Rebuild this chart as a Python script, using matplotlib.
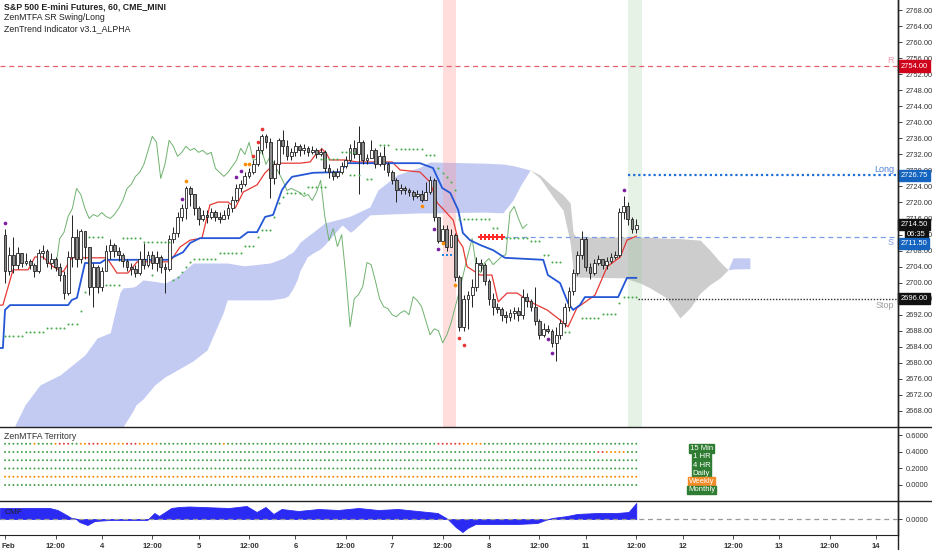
import matplotlib
matplotlib.use('Agg')
import matplotlib.pyplot as plt
import matplotlib.transforms as mtrans
from matplotlib.lines import Line2D
import numpy as np

plt.rcParams['font.family'] = ['Liberation Sans', 'DejaVu Sans']

# ---------------- data ----------------
first_open = 2712.0
closes = [2703.0, 2707.0, 2704.5, 2707.5, 2705.0, 2705.5, 2704.5, 2703.0, 2707.5, 2708.0,
          2705.0, 2706.0, 2704.0, 2702.0, 2697.5, 2706.5, 2711.5, 2706.0, 2713.0, 2709.0,
          2699.0, 2704.0, 2699.0, 2703.0, 2708.0, 2709.5, 2708.0, 2707.0, 2705.5, 2704.0,
          2703.5, 2702.5, 2706.0, 2704.5, 2707.0, 2705.0, 2706.5, 2704.0, 2703.5, 2711.0,
          2712.5, 2716.5, 2718.5, 2723.5, 2722.0, 2718.5, 2716.0, 2717.0, 2716.5, 2717.5,
          2716.5, 2716.0, 2717.0, 2718.5, 2720.5, 2723.5, 2724.5, 2726.5, 2727.5, 2729.5,
          2733.0, 2736.5, 2735.0, 2726.0, 2729.5, 2735.5, 2734.0, 2731.5, 2732.5, 2734.0,
          2733.0, 2733.5, 2732.5, 2733.0, 2732.0, 2732.5, 2728.5, 2727.5, 2726.5, 2727.5,
          2729.0, 2730.5, 2733.5, 2732.0, 2735.0, 2730.5, 2731.0, 2733.0, 2729.5, 2731.5,
          2729.5, 2727.5, 2725.5, 2723.0, 2723.5, 2723.0, 2722.5, 2721.5, 2722.0, 2720.5,
          2722.5, 2725.5, 2716.5, 2710.5, 2713.5, 2709.0, 2712.0, 2701.5, 2689.0, 2696.0,
          2697.0, 2699.0, 2705.0, 2704.5, 2700.5, 2696.0, 2694.0, 2693.5, 2692.0, 2691.5,
          2692.5, 2693.0, 2692.0, 2696.5, 2695.5, 2694.0, 2690.5, 2687.0, 2688.5, 2688.0,
          2685.0, 2687.0, 2690.0, 2694.0, 2698.0, 2702.5, 2707.0, 2711.0, 2704.0, 2702.5,
          2705.0, 2706.0, 2704.5, 2705.5, 2706.5, 2707.0, 2717.5, 2719.0, 2716.0, 2713.5,
          2714.5]
highs = [2713.5, 2709.0, 2711.5, 2709.0, 2707.5, 2707.5, 2706.0, 2705.0, 2708.5, 2709.5,
         2708.5, 2707.5, 2706.5, 2705.0, 2703.0, 2708.0, 2717.0, 2713.5, 2713.5, 2711.0,
         2709.0, 2705.0, 2704.5, 2704.0, 2709.5, 2711.0, 2710.0, 2709.0, 2707.5, 2706.0,
         2705.0, 2704.5, 2708.0, 2710.0, 2708.0, 2708.0, 2708.0, 2707.0, 2705.0, 2712.0,
         2714.0, 2717.5, 2719.5, 2724.0, 2724.0, 2721.0, 2719.0, 2718.0, 2718.0, 2718.5,
         2718.0, 2717.5, 2718.0, 2719.5, 2721.5, 2724.5, 2725.5, 2727.5, 2728.5, 2730.5,
         2734.0, 2737.0, 2737.0, 2736.0, 2730.5, 2736.0, 2738.0, 2735.5, 2733.5, 2735.0,
         2734.5, 2734.5, 2734.0, 2734.0, 2733.5, 2733.5, 2733.0, 2729.5, 2728.0, 2728.5,
         2730.0, 2731.5, 2734.5, 2735.5, 2739.0, 2735.5, 2732.0, 2735.5, 2733.5, 2732.5,
         2734.0, 2730.0, 2728.0, 2726.0, 2724.5, 2724.0, 2723.5, 2723.0, 2723.0, 2723.0,
         2725.0, 2726.5, 2726.0, 2716.5, 2714.5, 2714.5, 2713.5, 2712.5, 2702.0, 2697.0,
         2698.0, 2701.0, 2706.5, 2706.0, 2705.0, 2701.0, 2697.5, 2695.0, 2694.0, 2693.0,
         2693.5, 2694.0, 2694.0, 2698.5, 2697.5, 2696.0, 2699.0, 2691.0, 2690.0, 2689.5,
         2688.5, 2689.0, 2691.0, 2695.0, 2699.0, 2703.5, 2708.0, 2713.0, 2711.5, 2705.0,
         2706.0, 2707.0, 2706.0, 2706.5, 2707.5, 2708.0, 2718.5, 2721.5, 2720.0, 2716.5,
         2716.0]
lows = [2700.0, 2702.0, 2702.5, 2703.5, 2704.0, 2704.5, 2703.5, 2701.5, 2702.5, 2706.0,
        2704.0, 2703.5, 2703.0, 2700.5, 2696.0, 2697.0, 2704.0, 2704.0, 2705.0, 2706.0,
        2697.0, 2694.0, 2697.5, 2698.0, 2703.0, 2706.0, 2706.5, 2705.5, 2704.0, 2703.0,
        2702.0, 2701.5, 2702.0, 2703.5, 2704.0, 2703.5, 2703.0, 2702.5, 2697.5, 2703.0,
        2710.0, 2711.5, 2715.5, 2716.0, 2719.0, 2717.0, 2714.5, 2715.5, 2715.0, 2716.0,
        2715.5, 2715.0, 2716.0, 2716.0, 2717.5, 2720.0, 2722.5, 2724.0, 2726.0, 2727.0,
        2729.0, 2732.0, 2733.5, 2721.0, 2724.5, 2727.0, 2732.0, 2730.5, 2730.5, 2731.5,
        2731.5, 2732.0, 2731.5, 2732.0, 2731.0, 2731.5, 2727.5, 2726.0, 2725.5, 2726.0,
        2727.0, 2728.5, 2730.0, 2731.0, 2722.0, 2729.5, 2729.5, 2731.0, 2728.5, 2729.0,
        2728.0, 2726.5, 2724.5, 2720.0, 2722.0, 2722.0, 2721.5, 2720.5, 2721.0, 2720.0,
        2720.5, 2722.0, 2715.5, 2710.0, 2711.5, 2708.0, 2711.0, 2700.5, 2688.0, 2688.0,
        2688.5, 2694.0, 2698.0, 2703.0, 2699.5, 2694.5, 2692.0, 2692.5, 2690.5, 2690.0,
        2690.5, 2691.0, 2690.5, 2691.0, 2694.0, 2693.0, 2689.5, 2686.0, 2686.5, 2687.5,
        2684.0, 2680.5, 2686.0, 2689.0, 2693.0, 2697.0, 2702.0, 2706.0, 2703.0, 2701.0,
        2702.0, 2704.5, 2703.5, 2703.5, 2705.0, 2706.0, 2706.5, 2716.0, 2714.5, 2712.5,
        2712.5]

# conversion (red) and base (blue) lines: vertices (bar index, price)
conv_x = [-1.2, -0.5, 1.9, 5.5, 7.1, 9.0, 11.4, 13.8, 15.9, 24.2, 26.6, 29.2, 31.4, 39.2,
          41.6, 44.0, 46.8, 48.7, 50.6, 53.0, 54.7, 56.6, 59.9, 61.8, 63.7, 65.4, 70.1, 72.5,
          73.7, 75.3, 76.5, 77.2, 80.8, 83.7, 92.0, 93.9, 98.6, 101.0, 102.7, 103.9, 106.5,
          107.7, 108.8, 109.8, 112.9, 115.7, 117.2, 119.3, 121.7, 124.8, 128.8, 131.9, 133.8,
          135.9, 140.2, 143.1, 146.2, 147.8, 150.0]
conv_y = [2694.4, 2694.4, 2703.2, 2703.2, 2706.4, 2706.4, 2704.0, 2702.7, 2706.2, 2706.2,
          2702.4, 2702.4, 2705.2, 2705.2, 2708.9, 2710.6, 2711.1, 2719.4, 2720.1, 2720.1,
          2718.6, 2722.6, 2724.4, 2727.4, 2729.3, 2729.8, 2729.8, 2730.1, 2731.8, 2733.4,
          2732.0, 2730.6, 2730.6, 2730.1, 2730.1, 2728.1, 2727.6, 2725.1, 2719.9, 2718.6,
          2715.6, 2710.6, 2708.9, 2704.0, 2701.9, 2701.9, 2695.2, 2697.4, 2697.4, 2695.2,
          2693.2, 2690.7, 2689.0, 2693.7, 2696.9, 2704.0, 2706.4, 2710.6, 2711.6]
base_x = [-1.2, -0.5, 0.0, 1.2, 15.0, 15.9, 17.1, 19.0, 22.6, 23.8, 38.7, 42.3, 44.0, 46.3,
          55.8, 57.7, 59.9, 61.8, 63.7, 65.8, 67.0, 68.2, 73.2, 79.6, 81.3, 98.6, 101.7, 103.9,
          105.8, 107.7, 108.8, 110.5, 112.9, 116.0, 118.8, 127.9, 129.0, 131.9, 133.8, 135.0,
          136.6, 137.8, 145.7, 147.8, 150.0]
base_y = [2683.7, 2683.7, 2693.2, 2694.4, 2694.4, 2695.7, 2696.2, 2704.9, 2704.9, 2705.7,
          2705.7, 2707.6, 2709.9, 2711.1, 2711.1, 2712.6, 2712.6, 2716.4, 2716.9, 2723.1,
          2724.9, 2726.4, 2727.4, 2727.6, 2729.8, 2729.8, 2728.6, 2723.6, 2722.4, 2718.1,
          2712.4, 2710.6, 2709.4, 2708.1, 2706.2, 2705.7, 2701.9, 2699.9, 2694.9, 2693.2,
          2694.4, 2696.4, 2696.4, 2701.2, 2701.2]
lag_shift = 26
lag_start = 12

# cloud (leading spans, already displaced forward)
cloud1_x = [2.4, 4.75, 8.3, 13.1, 19.0, 21.9, 25.0, 26.1, 27.3, 28.0, 30.4, 31.1, 32.8, 35.6,
            38.0, 40.9, 44.7, 48.0, 51.8, 52.8, 56.8, 63.0, 66.3, 67.3, 68.4, 69.4, 70.1, 71.8,
            73.2, 74.9, 76.0, 80.1, 82.0, 82.7, 86.7, 88.6, 93.2, 98.6, 101.0, 114.1, 118.3,
            120.7, 122.6, 124.8]
cloud1_top = [2664.5, 2669.5, 2674.5, 2677.0, 2682.0, 2686.2, 2687.5, 2692.4, 2697.5, 2698.7,
              2698.9, 2699.2, 2700.7, 2700.3, 2699.9, 2701.5, 2704.9, 2704.9, 2704.9, 2704.9,
              2704.2, 2704.9, 2706.2, 2707.0, 2707.6, 2709.0, 2710.1, 2711.5, 2712.6, 2714.0,
              2714.9, 2716.0, 2716.6, 2716.9, 2718.9, 2723.1, 2726.9, 2728.8, 2730.1, 2729.8,
              2729.6, 2729.2, 2728.7, 2728.1]
cloud1_bot = [2650.0, 2650.0, 2650.0, 2650.0, 2650.0, 2650.0, 2650.0, 2650.0, 2662.0, 2664.0,
              2668.0, 2669.5, 2671.0, 2674.5, 2676.5, 2678.2, 2680.5, 2683.2, 2692.4, 2695.7,
              2695.7, 2695.7, 2696.2, 2696.7, 2698.5, 2700.7, 2703.0, 2706.4, 2707.4, 2708.4,
              2709.5, 2714.4, 2712.6, 2713.0, 2716.9, 2717.0, 2717.2, 2717.4, 2717.4, 2717.6,
              2717.4, 2720.6, 2724.4, 2728.1]
cloud2_x = [124.8, 127.1, 130.2, 132.6, 134.3, 135.0, 135.7, 147.1, 150.9, 153.3, 156.9, 160.4,
            162.8, 165.2, 167.5, 169.9, 171.8]
cloud2_top = [2728.1, 2726.9, 2723.9, 2721.9, 2719.9, 2712.4, 2711.4, 2711.4, 2711.4, 2711.3,
              2711.1, 2711.0, 2710.8, 2710.6, 2708.1, 2705.2, 2703.2]
cloud2_bot = [2728.1, 2726.1, 2721.4, 2718.1, 2710.0, 2703.0, 2701.4, 2701.2, 2699.9, 2698.7,
              2696.4, 2691.2, 2693.7, 2697.4, 2699.5, 2701.2, 2703.2]
cloud3_x = [171.8, 173.0, 177.0]
cloud3_top = [2703.2, 2706.2, 2706.2]
cloud3_bot = [2703.2, 2703.4, 2703.5]

# swing markers
purple_x = [0, 42, 55, 56, 102, 103, 129, 130, 147]
purple_y = [2715.0, 2720.8, 2726.4, 2727.9, 2713.4, 2708.5, 2686.0, 2682.5, 2723.0]
orange_x = [43, 57, 58, 99, 104, 107]
orange_y = [2725.3, 2729.6, 2729.6, 2719.2, 2710.0, 2699.5]
red_x = [59, 60, 61, 108, 109]
red_y = [2731.5, 2735.0, 2738.3, 2686.2, 2684.5]
blue_dot_x = [104, 105, 106]
blue_dot_y = [2706.9, 2706.9, 2706.9]
cross_x = [113, 114, 115, 116, 117, 118]
cross_y = [2711.5] * 6

# green stop dots: (first bar, last bar, price)
green_segments = [
    (0, 4, 2686.8), (5, 9, 2687.8), (10, 14, 2688.8), (15, 17, 2689.8), (18, 18, 2693.0),
    (19, 19, 2697.7), (20, 23, 2711.4), (24, 27, 2699.4), (28, 32, 2711.2), (33, 39, 2710.1),
    (35, 35, 2702.0), (40, 40, 2700.7), (41, 41, 2701.5), (42, 42, 2702.7), (43, 43, 2704.0),
    (44, 44, 2705.2), (45, 50, 2706.0), (51, 56, 2707.5), (57, 59, 2709.1), (60, 60, 2711.4),
    (61, 63, 2713.1), (64, 64, 2716.4), (65, 65, 2719.9), (66, 66, 2721.4), (67, 71, 2722.4),
    (72, 76, 2723.9), (75, 79, 2730.8), (80, 83, 2732.6), (82, 84, 2726.9), (86, 87, 2725.9),
    (89, 91, 2734.3), (93, 99, 2733.3), (100, 102, 2731.8), (103, 103, 2728.6),
    (104, 104, 2727.4), (105, 105, 2726.4), (106, 106, 2725.1), (107, 107, 2723.1),
    (108, 115, 2716.0), (116, 117, 2713.6), (118, 124, 2711.2), (125, 127, 2710.3),
    (128, 129, 2706.9), (130, 132, 2705.2), (133, 134, 2687.7), (137, 141, 2691.3),
    (142, 145, 2692.2), (146, 146, 2694.9), (147, 150, 2696.4)]

# levels
level_R = 2754.00
level_long = 2726.75
level_last = 2714.50
level_S = 2711.50
level_stop = 2696.00
countdown = "06:35"

# highlighted bars
red_band = (104.1, 107.2)
green_band = (148.1, 151.4)

# MTFA territory rows (value, name, colour codes per bar)
terr_values = [0.5, 0.4, 0.3, 0.2, 0.1, 0.0]
terr_names = ["15 Min", "1 HR", "4 HR", "Daily", "Weekly", "Monthly"]
terr_label_colors = ["g", "g", "g", "g", "o", "g"]
terr_codes = [
    "gggggggoggggorrrggoorrroooooorrrooooo" + "g" * 15 + "o" + "g" * 50 + "rrrrrrooooo" + "g" * 37,
    "g" * 141 + "rrooooo" + "ggg",
    "g" * 151,
    "g" * 151,
    "o" * 151,
    "g" * 151,
]

# CMF (vertices)
cmf_x = [-1.2, 10.6, 12.5, 14.2, 15.8, 16.8, 17.7, 19.6, 21.3, 24.8, 33.8, 35.5, 36.6, 39.5,
         41.4, 43.7, 53.2, 57.4, 59.8, 61.9, 63.8, 65.7, 69.7, 74.5, 79.2, 84.0, 88.7, 93.4,
         98.1, 102.8, 105.2, 107.1, 108.7, 109.9, 111.8, 117.0, 121.7, 126.5, 128.4, 130.0,
         133.6, 135.9, 140.7, 145.4, 148.2, 150.0]
cmf_y = [0.11, 0.11, 0.09, 0.05, 0.01, 0.005, -0.03, -0.06, -0.02, -0.01, -0.01, 0.06, 0.03,
         0.11, 0.12, 0.125, 0.11, 0.13, 0.07, 0.12, 0.05, 0.10, 0.08, 0.10, 0.09, 0.11, 0.09,
         0.10, 0.08, 0.06, 0.0, -0.08, -0.13, -0.09, -0.05, -0.05, -0.05, -0.04, -0.01, 0.01,
         0.03, 0.05, 0.06, 0.06, 0.07, 0.16]

# x axis labels
day_labels = ["Feb", "4", "5", "6", "7", "8", "11", "12", "13", "14"]
bars_per_day = 23
noon_offset = 12

# ---------------- figure ----------------
W, H = 932, 550
fig = plt.figure(figsize=(W / 100, H / 100), dpi=100)
fig.patch.set_facecolor('white')


def fy(y):
    return 1 - y / H


RX = 898 / W
axm = fig.add_axes([0, fy(427), RX, 427 / H])
axt = fig.add_axes([0, fy(501), RX, (501 - 427) / H], sharex=axm)
axc = fig.add_axes([0, fy(535), RX, (535 - 501) / H], sharex=axm)

XMIN, XMAX = -1.19, 212.2
axm.set_xlim(XMIN, XMAX)
axm.set_ylim(2664.0, 2770.5)

col_color = {"g": "#43a047", "o": "#fb8c00", "r": "#e53935"}
TFS = 5.4

# cloud
axm.fill_between(cloud1_x, cloud1_bot, cloud1_top, color='#c3cbf3', lw=0, zorder=1)
axm.fill_between(cloud2_x, cloud2_bot, cloud2_top, color='#cdcdcd', lw=0, zorder=1)
axm.fill_between(cloud3_x, cloud3_bot, cloud3_top, color='#c3cbf3', lw=0, zorder=1)

# bands
axm.axvspan(*red_band, color='#ff9a9a', alpha=0.33, lw=0, zorder=2)
axm.axvspan(*green_band, color='#9ccc9c', alpha=0.25, lw=0, zorder=2)

# lagging span
n = len(closes)
lag_x = np.arange(lag_start, n - lag_shift)
lag_y = np.array(closes)[lag_start + lag_shift:]
axm.plot(lag_x, lag_y, color='#6fb26f', lw=0.7, zorder=3)

# lines
axm.plot(conv_x, conv_y, color='#e53935', lw=0.9, zorder=3.2)
axm.plot(base_x, base_y, color='#2457d6', lw=1.3, zorder=3.2)

# candles
o = np.array([first_open] + closes[:-1])
c = np.array(closes)
h = np.maximum(np.array(highs), np.maximum(o, c))
l = np.minimum(np.array(lows), np.minimum(o, c))
xs = np.arange(n)
axm.vlines(xs, l, h, color='#222222', lw=0.7, zorder=4)
body_b = np.minimum(o, c)
body_h = np.maximum(np.abs(c - o), 0.25)
fcs = ['#ffffff' if cc >= oo else '#8a8a8a' for oo, cc in zip(o, c)]
axm.bar(xs, body_h, bottom=body_b, width=0.66, color=fcs, edgecolor='#222222',
        linewidth=0.6, zorder=5)

# green stop dots
gx, gy = [], []
for a, b, p in green_segments:
    for i in range(a, b + 1):
        gx.append(i)
        gy.append(p)
axm.scatter(gx, gy, s=2.2, color='#4caf50', zorder=6, lw=0)
axm.scatter(purple_x, purple_y, s=7, color='#7b1fa2', zorder=6, lw=0)
axm.scatter(orange_x, orange_y, s=7, color='#fb8c00', zorder=6, lw=0)
axm.scatter(red_x, red_y, s=7, color='#e53935', zorder=6, lw=0)
axm.scatter(blue_dot_x, blue_dot_y, s=4, color='#1e88e5', marker='s', zorder=6, lw=0)
axm.scatter(cross_x, cross_y, s=18, color='#ff2b2b', marker='P', zorder=6, lw=0)

# level lines
axm.axhline(level_R, color='#e06070', lw=0.9, ls=(0, (4, 3)), zorder=3)
axm.plot([148.1, XMAX], [level_long] * 2, color='#1e6fd9', lw=1.6, ls=(0, (1, 1.3)), zorder=6)
axm.plot([118.5, XMAX], [level_S] * 2, color='#7f9be6', lw=0.9, ls=(0, (4, 3)), zorder=3)
axm.plot([150.5, XMAX], [level_stop] * 2, color='#333333', lw=1.0, ls=(0, (1, 1.2)), zorder=6)

bt = mtrans.blended_transform_factory(axm.transAxes, axm.transData)
axm.text(0.9955, level_R + 0.4, "R", transform=bt, ha='right', va='bottom', fontsize=6.5,
         color='#f29fb0')
axm.text(0.9955, level_long + 0.4, "Long", transform=bt, ha='right', va='bottom',
         fontsize=6.5, color='#4f7fd8')
axm.text(0.9955, level_S - 0.4, "S", transform=bt, ha='right', va='top', fontsize=6.5,
         color='#7f9be6')
axm.text(0.9955, level_stop - 0.5, "Stop", transform=bt, ha='right', va='top', fontsize=6.5,
         color='#9e9e9e')

# axes styling
for ax in (axm, axt, axc):
    for s in ('left', 'top', 'bottom'):
        ax.spines[s].set_visible(False)
    ax.spines['right'].set_color('#222222')
    ax.spines['right'].set_linewidth(1.0)
    ax.yaxis.tick_right()
    ax.tick_params(axis='y', direction='out', length=3, width=0.6, colors='#222222',
                   labelsize=TFS, pad=2.5, labelcolor='#333333')
    ax.set_facecolor('none')
axm.tick_params(axis='x', bottom=False, labelbottom=False)
axt.tick_params(axis='x', bottom=False, labelbottom=False)

yt = np.arange(2668, 2769, 4)
axm.set_yticks(yt)
axm.set_yticklabels([f"{v:.2f}" for v in yt])

# right axis price boxes
def rbox(ax, yval, text, fc, dy=0, dx=1.6):
    ax.annotate(text, xy=(1, yval), xycoords=('axes fraction', 'data'),
                xytext=(dx, dy), textcoords='offset points', ha='left', va='center',
                fontsize=TFS, color='white', zorder=20, annotation_clip=False,
                bbox=dict(boxstyle='square,pad=0.3', fc=fc, ec=fc))

rbox(axm, level_R, f"{level_R:.2f}", '#d0021b')
rbox(axm, level_long, f"{level_long:.2f}", '#1565c0')
rbox(axm, level_last, f"{level_last:.2f}", '#111111')
rbox(axm, level_last, countdown, '#111111', dy=-7.0, dx=6.5)
rbox(axm, level_S, f"{level_S:.2f}", '#1565c0', dy=-5.0)
rbox(axm, level_stop, f"{level_stop:.2f}", '#111111')

# territory panel
axt.set_ylim(-0.194, 0.703)
axt.set_yticks([0.6, 0.4, 0.2, 0.0])
axt.set_yticklabels(["0.6000", "0.4000", "0.2000", "0.0000"])
for val, codes in zip(terr_values, terr_codes):
    codes = codes[:n]
    axt.scatter(np.arange(len(codes)), [val] * len(codes), s=2.0,
                color=[col_color[ch] for ch in codes], lw=0, zorder=3)
for val, name, lc in zip(terr_values, terr_names, terr_label_colors):
    fc = '#2e7d32' if lc == 'g' else '#f28c28'
    axt.text(165.5, val - 0.058, name, ha='center', va='center', fontsize=5.6, color='white',
             bbox=dict(boxstyle='square,pad=0.1', fc=fc, ec=fc), zorder=5)
axt.text(0.005, 0.87, "ZenMTFA Territory", transform=axt.transAxes, fontsize=6.3,
         color='#333333', ha='left', va='center')

# CMF panel
axc.set_ylim(-0.16, 0.18)
axc.fill_between(cmf_x, 0, cmf_y, color='#2a2af2', lw=0.6, edgecolor='#2a2af2', zorder=2)
axc.axhline(0, color='#9a9a9a', lw=0.9, ls=(0, (4, 3)), zorder=3)
axc.set_yticks([0.0])
axc.set_yticklabels(["0.0000"])
axc.text(0.005, 0.66, "CMF", transform=axc.transAxes, fontsize=6.0, color='#222222',
         ha='left', va='center', zorder=5)
axc.spines['bottom'].set_visible(True)
axc.spines['bottom'].set_color('#222222')

xt, xl = [], []
for d, lab in enumerate(day_labels):
    xt.append(d * bars_per_day)
    xl.append(lab)
    if d < len(day_labels) - 1:
        xt.append(d * bars_per_day + noon_offset)
        xl.append("12:00")
axc.set_xticks(xt)
axc.set_xticklabels(xl)
axc.tick_params(axis='x', direction='out', length=3, width=0.6, colors='#333333',
                labelsize=5.6, pad=3)
for t in axc.get_xticklabels():
    t.set_fontweight('bold')
first_lab = axc.get_xticklabels()[0]
first_lab.set_horizontalalignment('left')
first_lab.set_transform(first_lab.get_transform() +
                        mtrans.ScaledTranslation(-4 / 100, 0, fig.dpi_scale_trans))
axc.set_xlim(XMIN, XMAX)

# separators and axis line
fig.add_artist(Line2D([0, 1], [fy(427), fy(427)], color='#222222', lw=1.0))
fig.add_artist(Line2D([0, 1], [fy(501), fy(501)], color='#222222', lw=1.0))
fig.add_artist(Line2D([RX, RX], [0, 1], color='#222222', lw=1.0))

# titles
fig.text(4 / W, fy(7), "S&P 500 E-mini Futures, 60, CME_MINI", fontsize=6.3, weight='bold',
         color='#222222', va='center', ha='left')
fig.text(4 / W, fy(18), "ZenMTFA SR Swing/Long", fontsize=6.3, color='#222222', va='center')
fig.text(4 / W, fy(29), "ZenTrend Indicator v3.1_ALPHA", fontsize=6.3, color='#222222',
         va='center')

fig.savefig('out.png', dpi=100, facecolor='white')
